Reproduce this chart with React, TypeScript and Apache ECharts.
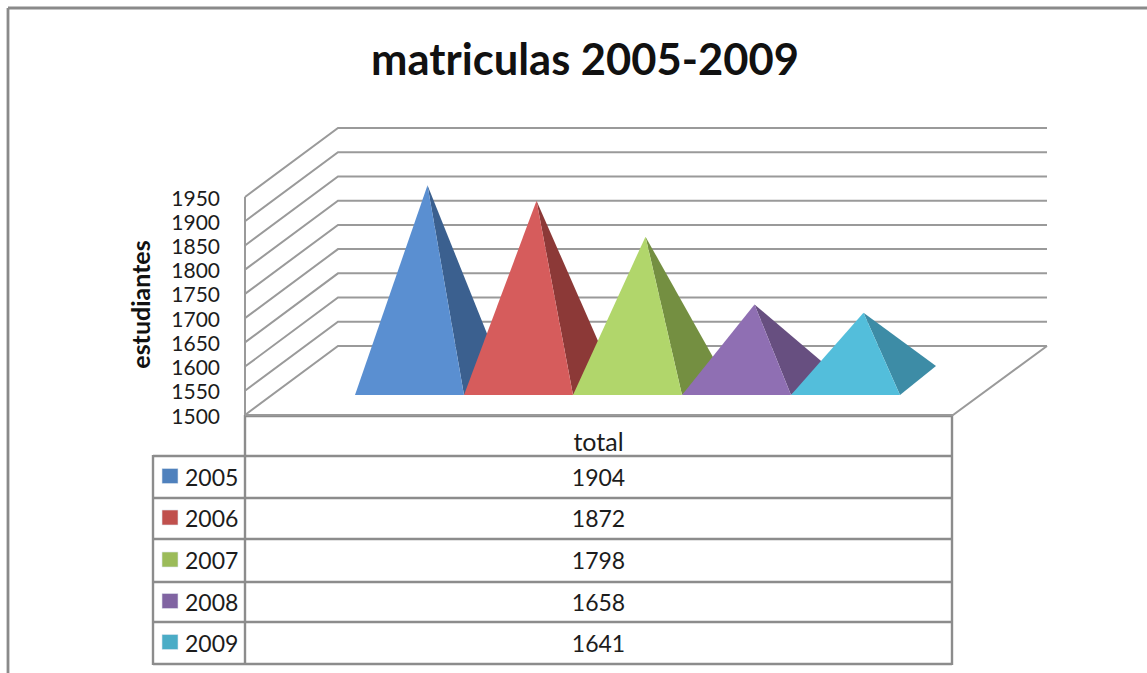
import React, { useEffect, useRef } from "react";
import * as echarts from "echarts";

const years = ["2005", "2006", "2007", "2008", "2009"];
const totals = [1904, 1872, 1798, 1658, 1641];
const yTicks = [1500, 1550, 1600, 1650, 1700, 1750, 1800, 1850, 1900, 1950];
const columnLabel = "total";
const titleText = "matriculas 2005-2009";
const yAxisName = "estudiantes";

const frontColors = ["#5A8FD1", "#D65C5C", "#B1D66B", "#8F6FB3", "#53BEDB"];
const sideColors = ["#3B608F", "#8C3937", "#748F41", "#674F80", "#3D8CA6"];
const swatchColors = ["#4F81BD", "#C0504D", "#9BBB59", "#8064A2", "#4BACC6"];

const FONT = "Lato, Carlito, Calibri, sans-serif";
const TEXT = "#1c1c1c";
const WALL = "#9a9a9a";
const TABLE = "#8c8c8c";

// oblique projection of the chart box
const WALL_FRONT_X = 245;
const WALL_BACK_X = 338;
const WALL_RIGHT_X = 1047;
const FLOOR_RIGHT_X = 953;
const BOX_DY = 69;
// pyramid base inside the box
const BASE_LIFT = 20;
const BASE_DX = 36;
const BASE_DY = 29;
const APEX_LIFT = 34;

const TABLE_LEFT = 153;
const TABLE_MID = 245;
const TABLE_RIGHT = 952;
const rowLines = [416, 456, 498, 539, 582, 622, 664];

function tableGraphics() {
  const els: any[] = [];
  const line = (x1: number, y1: number, x2: number, y2: number, stroke = TABLE, lineWidth = 2.4) =>
    els.push({ type: "line", shape: { x1, y1, x2, y2 }, style: { stroke, lineWidth }, silent: true });

  line(8, 8, 1147, 8, "#8a8a8a", 2.8);
  line(8, 8, 8, 673, "#8a8a8a", 2.8);

  rowLines.forEach((y, i) => {
    line(i < 1 ? TABLE_MID : TABLE_LEFT, y, TABLE_RIGHT, y);
  });
  line(TABLE_MID, 415, TABLE_MID, rowLines[6] + 1);
  line(TABLE_RIGHT, 415, TABLE_RIGHT, rowLines[6] + 1);
  line(TABLE_LEFT, rowLines[1] - 1, TABLE_LEFT, rowLines[6] + 1);

  const cx = (TABLE_MID + TABLE_RIGHT) / 2;
  const text = (t: string, x: number, y: number, align: string, size = 23) =>
    els.push({
      type: "text",
      x,
      y,
      silent: true,
      style: { text: t, fill: TEXT, font: `${size}px ${FONT}`, textAlign: align, textVerticalAlign: "middle" },
    });
  text(columnLabel, cx, 440.5, "center", 25);
  years.forEach((yr, i) => {
    const mid = (rowLines[i + 1] + rowLines[i + 2]) / 2 - 0.5;
    els.push({
      type: "rect",
      silent: true,
      shape: { x: 162, y: mid - 8, width: 16, height: 15 },
      style: { fill: swatchColors[i], stroke: "#dfe6ee", lineWidth: 0.6 },
    });
    text(yr, 185, mid, "left");
    text(String(totals[i]), cx, mid, "center");
  });
  return els;
}

export default function App() {
  const ref = useRef<HTMLDivElement>(null);

  useEffect(() => {
    document.body.style.margin = "0";
    const chart = echarts.init(ref.current!, null, { renderer: "svg" });

    const wallSeries = {
      type: "custom",
      z: 1,
      silent: true,
      data: yTicks.map((v) => [0, v]),
      renderItem: (_p: any, api: any) => {
        const v = api.value(1);
        const y = api.coord([0, v])[1];
        const style = { stroke: WALL, fill: "none", lineWidth: 2 };
        const children: any[] = [
          {
            type: "polyline",
            shape: {
              points: [
                [WALL_FRONT_X, y],
                [WALL_BACK_X, y - BOX_DY],
                [WALL_RIGHT_X, y - BOX_DY],
              ],
            },
            style,
          },
        ];
        if (v === yTicks[0]) {
          const top = api.coord([0, yTicks[yTicks.length - 1]])[1];
          children.push(
            { type: "line", shape: { x1: WALL_FRONT_X, y1: y, x2: WALL_FRONT_X, y2: top }, style },
            {
              type: "polyline",
              shape: {
                points: [
                  [WALL_RIGHT_X, y - BOX_DY],
                  [FLOOR_RIGHT_X, y],
                  [WALL_FRONT_X, y],
                ],
              },
              style,
            }
          );
        }
        return { type: "group", children };
      },
    };

    const pyramidSeries = {
      type: "custom",
      z: 2,
      silent: true,
      data: totals.map((v, i) => [i, v]),
      renderItem: (_p: any, api: any) => {
        const i = api.value(0);
        const [cx, yVal] = api.coord([i, api.value(1)]);
        const yBase = api.coord([i, yTicks[0]])[1] - BASE_LIFT;
        const half = api.size([1, 0])[0] / 2;
        const apex = [cx + BASE_DX / 2, yVal - APEX_LIFT];
        const fl = [cx - half, yBase];
        const fr = [cx + half, yBase];
        const br = [cx + half + BASE_DX, yBase - BASE_DY];
        return {
          type: "group",
          children: [
            { type: "polygon", shape: { points: [apex, fr, br] }, style: { fill: sideColors[i] } },
            { type: "polygon", shape: { points: [apex, fl, fr] }, style: { fill: frontColors[i] } },
          ],
        };
      },
    };

    chart.setOption({
      animation: false,
      backgroundColor: "#ffffff",
      title: {
        text: titleText,
        left: 580,
        top: 31,
        textAlign: "center",
        textStyle: { fontFamily: FONT, fontWeight: "bold", fontSize: 43.5, color: "#111111" },
      },
      grid: { left: 355, top: 197, width: 545, height: 218 },
      xAxis: { type: "category", data: years, show: false },
      yAxis: {
        type: "value",
        min: 1500,
        max: 1950,
        interval: 50,
        offset: 110,
        name: yAxisName,
        nameLocation: "middle",
        nameGap: 93,
        nameTextStyle: { fontFamily: FONT, fontWeight: "bold", fontSize: 25, color: "#111111", padding: [0, 0, 0, 3] },
        axisLine: { show: false },
        axisTick: { show: false },
        splitLine: { show: false },
        axisLabel: {
          margin: 25,
          fontFamily: FONT,
          fontSize: 21,
          lineHeight: 22,
          color: TEXT,
          formatter: (v: number) => String(v),
        },
      },
      graphic: { elements: tableGraphics() },
      series: [wallSeries, pyramidSeries],
    } as any);

    return () => chart.dispose();
  }, []);

  return <div ref={ref} style={{ position: "absolute", left: 0, top: 0, width: 1147, height: 673 }} />;
}
